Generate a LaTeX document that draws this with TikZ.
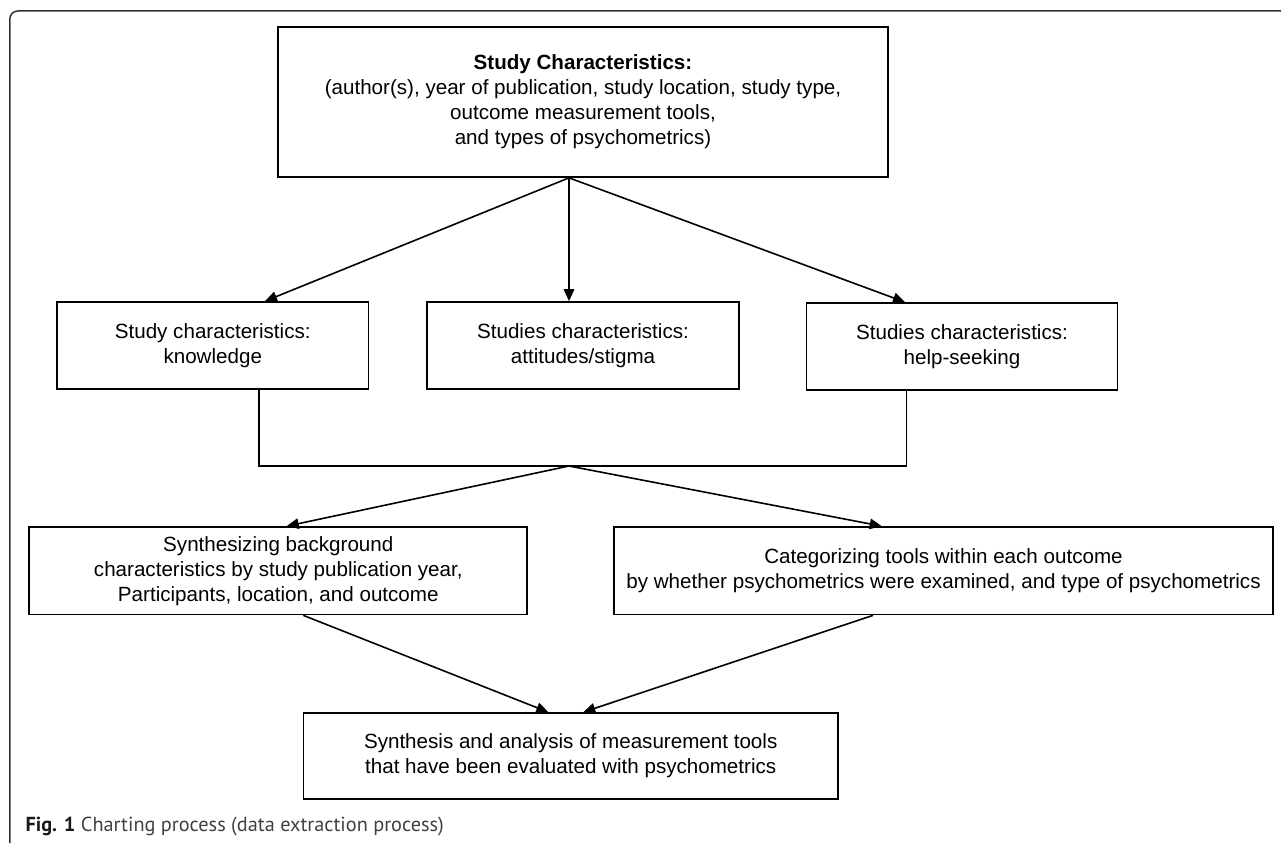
\documentclass[tikz,border=0pt]{standalone}
\usepackage{fontspec}
\setmainfont{Liberation Sans}
\newfontfamily\capfont{PT Sans}
\usetikzlibrary{arrows.meta,calc}
\begin{document}
\begin{tikzpicture}[x=1pt,y=-1pt,
  box/.style={draw=black, line width=1.7pt, align=center, inner sep=0pt,
    font=\fontsize{20.6}{25}\selectfont},
  arr/.style={line width=1.6pt, -{Triangle[length=12pt,width=10.5pt]}},
  ln/.style={line width=1.6pt}]
\useasboundingbox (0,0) rectangle (1281,843);
\draw[black!80, line width=1.5pt, rounded corners=8pt] (9.8,843) -- (9.8,11) -- (1281,11);

\node[box, minimum width=610pt, minimum height=150pt] (top) at (583,102)
  {\textbf{Study Characteristics:}\\(author(s), year of publication, study location, study type,\\outcome measurement tools,\\and types of psychometrics)};
\node[box, minimum width=311.5pt, minimum height=87pt] (A) at (212.75,345.5)
  {Study characteristics:\\knowledge};
\node[box, minimum width=312pt, minimum height=87pt] (B) at (583,345.5)
  {Studies characteristics:\\attitudes/stigma};
\node[box, minimum width=311pt, minimum height=87pt] (C) at (962,346.5)
  {Studies characteristics:\\help-seeking};
\node[box, minimum width=498pt, minimum height=87.5pt] (D) at (278.3,570.75)
  {Synthesizing background\\characteristics by study publication year,\\Participants, location, and outcome};
\node[box, minimum width=659pt, minimum height=87.5pt] (E) at (943.5,570.75)
  {Categorizing tools within each outcome\\by whether psychometrics were examined, and type of psychometrics};
\node[box, minimum width=534.7pt, minimum height=86pt] (F) at (570.7,756)
  {Synthesis and analysis of measurement tools\\that have been evaluated with psychometrics};

\coordinate (o1) at ([xshift=-14pt]top.south);
\draw[arr] (o1) -- ([xshift=52.25pt]A.north);
\draw[arr] (o1) -- ([xshift=-14pt]B.north);
\draw[arr] (o1) -- ([xshift=-57pt]C.north);

\coordinate (j) at (569,466);
\draw[ln] ([xshift=46.5pt]A.south) |- (j) -| ([xshift=-55.5pt]C.south);
\draw[arr] (j) -- ([xshift=8.4pt]D.north);
\draw[arr] (j) -- ([xshift=-61.8pt]E.north);

\draw[arr] ([xshift=25pt]D.south) -- ([xshift=-22.4pt]F.north);
\draw[arr] ([xshift=-70.5pt]E.south) -- ([xshift=12.6pt]F.north);

\node[anchor=west, inner sep=0pt, font=\capfont\fontsize{20.3}{24}\selectfont, text=black!75] (cap) at (25.3,826.7)
  {\textcolor{black!90}{\textbf{Fig. 1}} Charting process (data extraction process)};
\end{tikzpicture}
\end{document}
